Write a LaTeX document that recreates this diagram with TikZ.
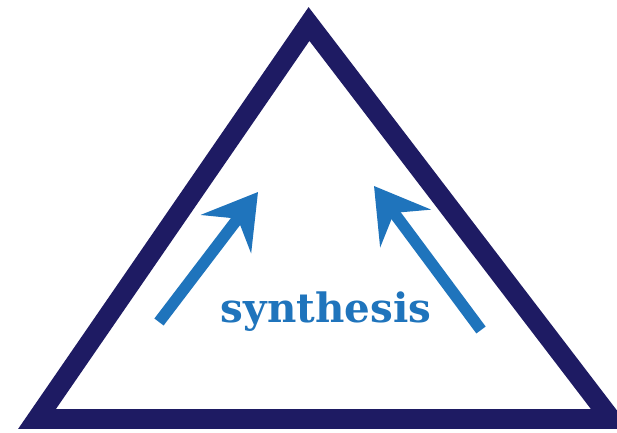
\documentclass[tikz,border=0pt]{standalone}
\usepackage{fontspec}
\setmainfont{DejaVu Serif}
\usepackage{xcolor}
\definecolor{frameNavy}{HTML}{1E1B63}
\definecolor{arrowBlue}{HTML}{1F74BC}
\usetikzlibrary{arrows.meta}
\tikzset{
  triframe/.style={
    draw=frameNavy,
    line width=11.3pt,
    line join=miter
  },
  riseline/.style={
    draw=arrowBlue,
    line width=6.6pt,
    -{Stealth[length=1.05cm,width=1.25cm,inset=0.38cm]}
  },
  synthlabel/.style={
    text=arrowBlue,
    font=\fontsize{23}{27}\selectfont\bfseries,
    inner sep=0pt
  }
}

\begin{document}
\begin{tikzpicture}[x=0.02cm,y=-0.02cm]
  \useasboundingbox[fill=white] (0,0) rectangle (617,432);
  \coordinate (apex) at (309,24);
  \coordinate (baseL) at (37,419);
  \coordinate (baseR) at (611,419);
  \draw[triframe] (apex) -- (baseL) -- (baseR) -- cycle;
  \coordinate (leftfoot) at (159,322);
  \coordinate (lefttip) at (258,192);
  \coordinate (rightfoot) at (481,330);
  \coordinate (righttip) at (374,186);
  \draw[riseline] (leftfoot) -- (lefttip);
  \draw[riseline] (rightfoot) -- (righttip);
  \node[synthlabel,anchor=base] (synth) at (326,322) {synthesis};
\end{tikzpicture}
\end{document}
